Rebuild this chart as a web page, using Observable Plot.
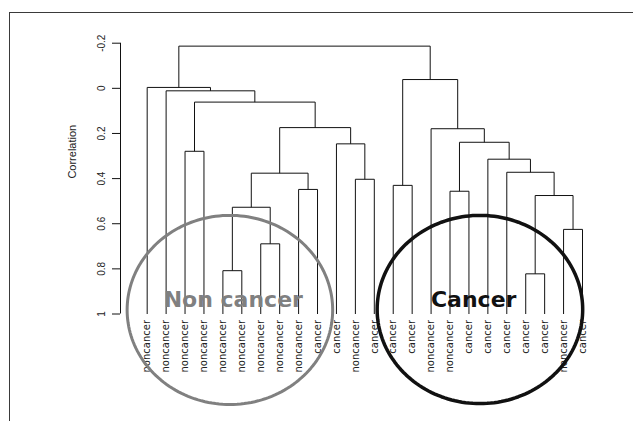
<!DOCTYPE html>
<html><head><meta charset="utf-8">
<script src="https://cdn.jsdelivr.net/npm/d3@7"></script>
<script src="https://cdn.jsdelivr.net/npm/@observablehq/plot@0.6"></script>
<style>
body{margin:0;background:#fff;}
#wrap{position:relative;width:633px;height:421px;overflow:hidden;background:#fff;}
#box{position:absolute;left:9px;top:12px;width:700px;height:500px;border-top:1.5px solid #3a3a3a;border-left:1.5px solid #3a3a3a;pointer-events:none;}
</style></head><body><div id="wrap"></div>
<script>
// Leaf labels, left to right
const leafLabels = ["noncancer","noncancer","noncancer","noncancer","noncancer","noncancer","noncancer","noncancer","noncancer","cancer","cancer","noncancer","cancer","cancer","cancer","noncancer","noncancer","cancer","cancer","cancer","cancer","cancer","noncancer","cancer"];

// Merge table (R hclust convention): negative = leaf (1-based position), positive = earlier merge (1-based)
const mergeLeft   = [-5, -7, 1, -9, 3, -12, -11, 5, -3, 9, -2, -1, -21, -23, 13, -20, -19, -17, 18, -16, -14, 21, 12];
const mergeRight  = [-6, -8, 2, -10, 4, -13, 6, 7, -4, 8, 10, 11, -22, -24, 14, 15, 16, -18, 17, 19, -15, 20, 22];
const mergeHeight = [0.808, 0.689, 0.527, 0.448, 0.376, 0.403, 0.246, 0.174, 0.279, 0.061, 0.011, -0.004, 0.822, 0.625, 0.475, 0.372, 0.314, 0.456, 0.239, 0.179, 0.430, -0.039, -0.187];

// Axis
const yTicks = [-0.2, 0, 0.2, 0.4, 0.6, 0.8, 1];
const yTickLabels = ["-0.2", "0", "0.2", "0.4", "0.6", "0.8", "1"];
const yTitle = "Correlation";

// Annotations (in data units: leaf position, correlation)
const groupNames = ["Non cancer", "Cancer"];
const groupColors = ["#808080", "#111111"];
const groupTextX = [5.55, 18.25];
const groupTextY = [0.97, 0.967];
const ellipseCx = [5.37, 18.58];
const ellipseCy = [0.982, 0.98];
const ellipseRx = [5.43, 5.43];
const ellipseRy = [0.419, 0.417];

const xDomain = [-0.41, 24];
const leafBase = 1;

// Build dendrogram segments
const nodeX = [], nodeY = [];
const segs = [];
function child(c) {
  return c < 0 ? {x: -c, y: leafBase} : {x: nodeX[c - 1], y: nodeY[c - 1]};
}
mergeHeight.forEach((h, i) => {
  const a = child(mergeLeft[i]), b = child(mergeRight[i]);
  segs.push({x1: a.x, y1: a.y, x2: a.x, y2: h});
  segs.push({x1: b.x, y1: b.y, x2: b.x, y2: h});
  segs.push({x1: a.x, y1: h, x2: b.x, y2: h});
  nodeX.push((a.x + b.x) / 2);
  nodeY.push(h);
});

// Ellipse outlines
const ellipsePts = [];
groupNames.forEach((g, k) => {
  for (let j = 0; j < 180; j++) {
    const t = (j / 180) * 2 * Math.PI;
    ellipsePts.push({g: k, x: ellipseCx[k] + ellipseRx[k] * Math.cos(t), y: ellipseCy[k] + ellipseRy[k] * Math.sin(t)});
  }
});

const annot = groupNames.map((n, k) => ({n, k, x: groupTextX[k], y: groupTextY[k]}));

const chart = Plot.plot({
  width: 633,
  height: 421,
  marginLeft: 120,
  marginRight: 51,
  marginTop: 42.7,
  marginBottom: 107.5,
  x: {domain: xDomain, axis: null},
  y: {domain: [yTicks[0], yTicks[yTicks.length - 1]], reverse: true, axis: null},
  style: {background: "transparent", overflow: "visible"},
  marks: [
    Plot.ruleX([xDomain[0]], {stroke: "#111", strokeWidth: 1}),
    Plot.axisY(yTicks, {anchor: "left", tickSize: 8, tickPadding: 8, tickRotate: -90, tickFormat: (d, i) => yTickLabels[i], fontSize: 10, fontFamily: "Liberation Sans, Arial, sans-serif", fill: "#222", stroke: "#111", label: null}),
    Plot.text([yTitle], {text: d => d, frameAnchor: "left", dx: -48, rotate: -90, fontSize: 11, fontFamily: "Liberation Sans, Arial, sans-serif", fill: "#222"}),
    Plot.link(segs, {x1: "x1", y1: "y1", x2: "x2", y2: "y2", stroke: "#111", strokeWidth: 1}),
    Plot.text(leafLabels, {x: (d, i) => i + 1, y: () => leafBase, text: d => d, rotate: -90, textAnchor: "end", dy: 6, fontSize: 10, fontFamily: "DejaVu Sans, sans-serif", fill: "#222"}),
    Plot.text(annot, {x: "x", y: "y", text: "n", fill: d => groupColors[d.k], textAnchor: "middle", lineAnchor: "bottom", fontSize: 22, fontWeight: "bold", fontFamily: "DejaVu Sans, sans-serif"}),
    Plot.line(ellipsePts.filter(d => d.g === 0), {x: "x", y: "y", curve: "linear-closed", stroke: groupColors[0], strokeWidth: 3}),
    Plot.line(ellipsePts.filter(d => d.g === 1), {x: "x", y: "y", curve: "linear-closed", stroke: groupColors[1], strokeWidth: 3.5})
  ]
});
const wrap = document.getElementById("wrap");
wrap.appendChild(chart);
const box = document.createElement("div");
box.id = "box";
wrap.appendChild(box);
</script>
</body></html>
